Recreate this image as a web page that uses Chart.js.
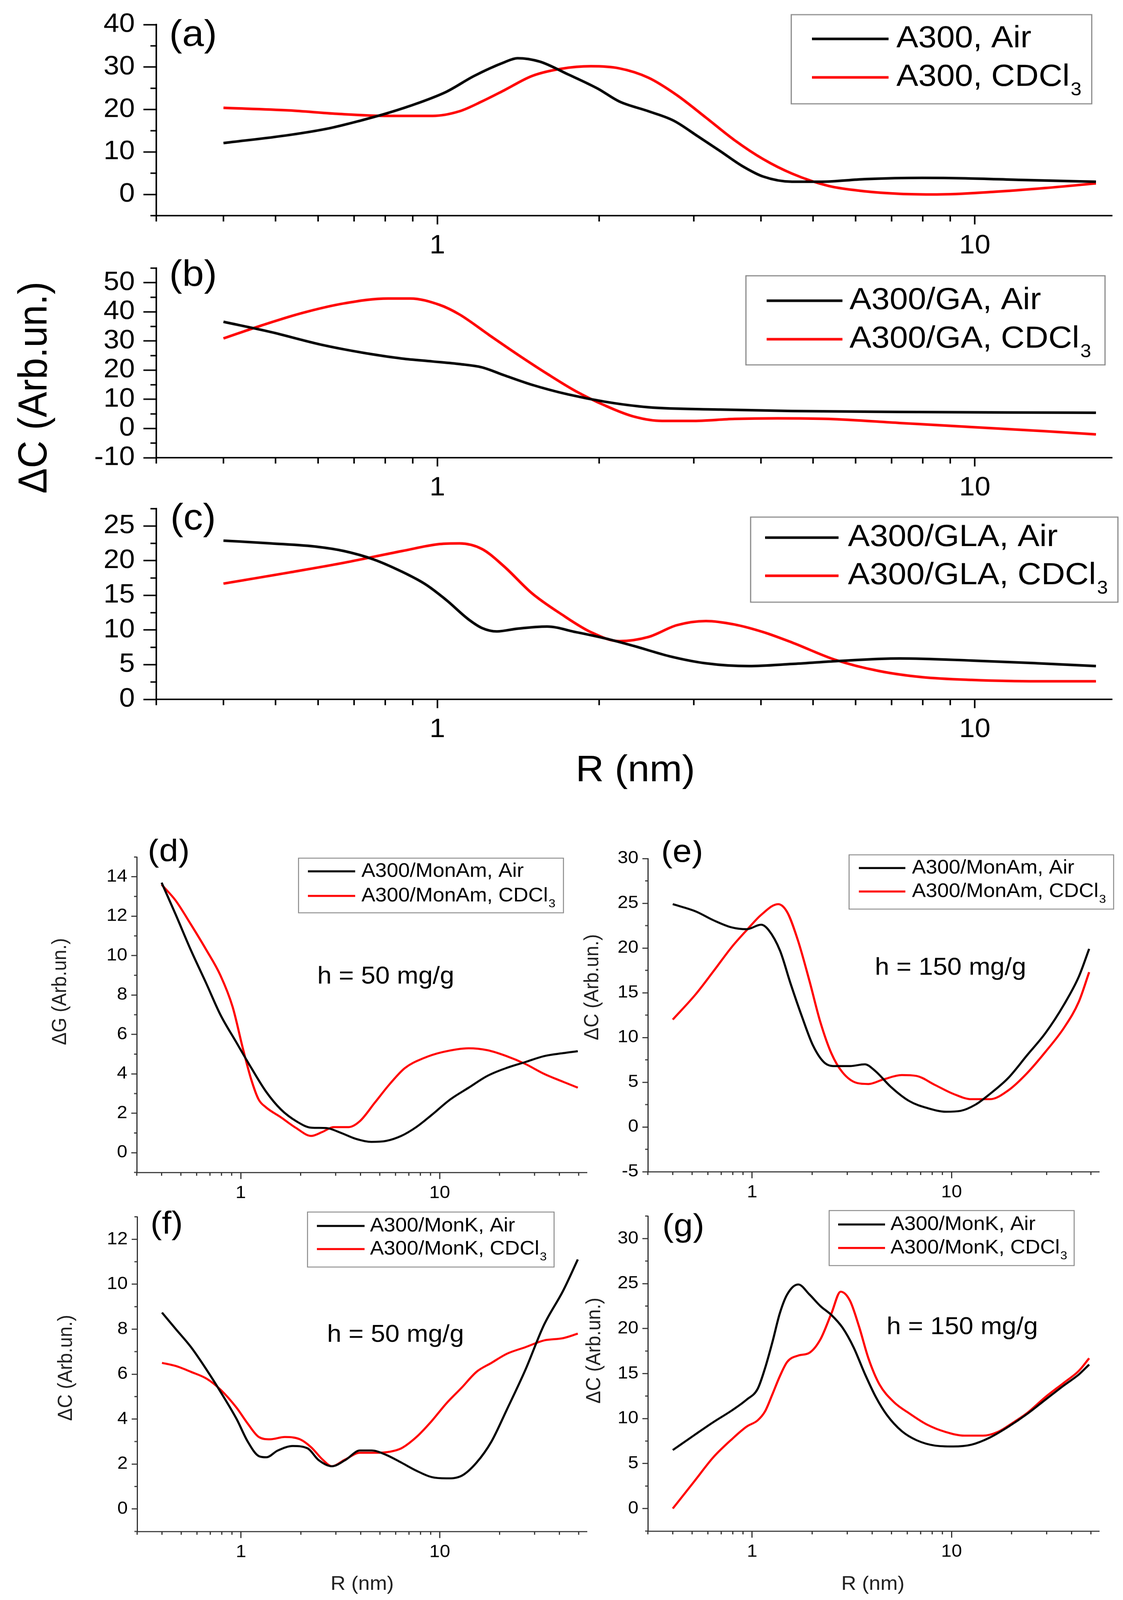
<!DOCTYPE html>
<html>
<head>
<meta charset="utf-8">
<script src="https://cdn.jsdelivr.net/npm/chart.js@4.4.1/dist/chart.umd.min.js"></script>
<style>
  html, body { margin: 0; padding: 0; background: #fff; overflow: hidden; }
  #page { position: relative; width: 2874px; height: 4363px; background: #fff; transform-origin: 0 0; }
  #page canvas { position: absolute; }
  .lbl { position: absolute; white-space: nowrap; font-family: "Liberation Sans", Arial, sans-serif; color: #000;
         transform: translate(-50%, -50%); line-height: 1; }
  .rot { transform: translate(-50%, -50%) rotate(-90deg); }
</style>
</head>
<body>
<div id="page">
  <div class="lbl rot" style="left:83px; top:1057px; font-size:104px;">ΔC (Arb.un.)</div>
  <div class="lbl" style="left:1626px; top:2095px; font-size:100px;">R (nm)</div>
  <div class="lbl rot" style="left:151px; top:2704px; font-size:52px; color:#222;">ΔG (Arb.un.)</div>
  <div class="lbl rot" style="left:1513px; top:2692px; font-size:52px; color:#222;">ΔC (Arb.un.)</div>
  <div class="lbl rot" style="left:166px; top:3730px; font-size:52px; color:#222;">ΔC (Arb.un.)</div>
  <div class="lbl rot" style="left:1518px; top:3683px; font-size:52px; color:#222;">ΔC (Arb.un.)</div>
  <div class="lbl" style="left:927px; top:4317px; font-size:53px; color:#222;">R (nm)</div>
  <div class="lbl" style="left:2234px; top:4317px; font-size:53px; color:#222;">R (nm)</div>
</div>
<script>
// ---- tick labels ----
const xMajor = [1, 10];
const xMinorTop = [0.3, 0.4, 0.5, 0.6, 0.7, 0.8, 0.9, 2, 3, 4, 5, 6, 7, 8, 9];
const xMinorBot = [0.3, 0.4, 0.5, 0.6, 0.7, 0.8, 0.9, 2, 3, 4, 5, 6, 7, 8, 9, 20, 30, 40, 50];

const yTicksA = [0, 10, 20, 30, 40];
const yMinorA = [-5, 5, 15, 25, 35];
const yTicksB = [-10, 0, 10, 20, 30, 40, 50];
const yMinorB = [-5, 5, 15, 25, 35, 45, 55];
const yTicksC = [0, 5, 10, 15, 20, 25];
const yMinorC = [2.5, 7.5, 12.5, 17.5, 22.5, 27.5];
const yTicksD = [0, 2, 4, 6, 8, 10, 12, 14];
const yMinorD = [-1, 1, 3, 5, 7, 9, 11, 13, 15];
const yTicksE = [-5, 0, 5, 10, 15, 20, 25, 30];
const yMinorE = [-2.5, 2.5, 7.5, 12.5, 17.5, 22.5, 27.5];
const yTicksF = [0, 2, 4, 6, 8, 10, 12];
const yMinorF = [-1, 1, 3, 5, 7, 9, 11, 13];
const yTicksG = [0, 5, 10, 15, 20, 25, 30];
const yMinorG = [-2.5, 2.5, 7.5, 12.5, 17.5, 22.5, 27.5, 32.5];

// ---- series (R in nm, dC in arb. units) ----
const aAirR = [0.4, 0.53, 0.63, 0.72, 0.81, 0.92, 1.04, 1.17, 1.33, 1.41, 1.55, 1.75, 1.99, 2.18, 2.47, 2.75, 3.06, 3.36, 3.68, 4.04, 4.57, 5.18, 6.23, 7.98, 9.6, 12.3, 16.8];
const aAirC = [12.1, 14.0, 15.6, 17.4, 19.2, 21.5, 24.2, 27.9, 31.1, 32.1, 31.3, 28.3, 24.9, 21.9, 19.6, 17.4, 13.6, 10.2, 6.8, 4.2, 3.0, 3.0, 3.6, 3.9, 3.8, 3.4, 3.0];
const aSolR = [0.4, 0.53, 0.65, 0.81, 0.98, 1.10, 1.21, 1.33, 1.50, 1.70, 1.93, 2.18, 2.47, 2.79, 3.16, 3.57, 4.04, 4.57, 5.34, 6.23, 7.25, 8.5, 10.8, 13.5, 16.8];
const aSolC = [20.4, 19.8, 19.0, 18.5, 18.5, 19.6, 21.9, 24.5, 27.9, 29.6, 30.2, 29.7, 27.5, 23.4, 18.1, 12.8, 8.3, 4.9, 2.0, 0.75, 0.15, 0, 0.6, 1.5, 2.6];

const bAirR = [0.4, 0.49, 0.61, 0.76, 0.86, 0.98, 1.10, 1.21, 1.33, 1.50, 1.75, 2.05, 2.47, 3.36, 4.57, 7.25, 11.5, 16.8];
const bAirC = [36.6, 33.1, 28.7, 25.4, 24.0, 23.0, 22.1, 21.0, 18.3, 15.0, 11.7, 9.2, 7.3, 6.5, 6.0, 5.7, 5.5, 5.4];
const bSolR = [0.4, 0.47, 0.56, 0.67, 0.81, 0.89, 1.01, 1.10, 1.25, 1.41, 1.60, 1.81, 2.05, 2.32, 2.62, 2.97, 3.57, 4.29, 5.34, 7.25, 9.86, 13.5, 16.8];
const bSolC = [30.9, 35.3, 39.6, 42.9, 44.6, 44.6, 42.4, 39.1, 32.0, 25.4, 18.8, 12.8, 7.9, 4.1, 2.6, 2.6, 3.3, 3.5, 3.3, 1.9, 0.5, -0.9, -2.0];

const cAirR = [0.4, 0.49, 0.6, 0.67, 0.76, 0.86, 0.95, 1.04, 1.14, 1.21, 1.29, 1.41, 1.60, 1.81, 2.05, 2.32, 2.71, 3.16, 3.8, 4.57, 5.5, 7.25, 9.86, 13.1, 16.8];
const cAirC = [22.9, 22.5, 22.0, 21.4, 20.2, 18.4, 16.6, 14.3, 11.6, 10.3, 9.8, 10.2, 10.5, 9.7, 8.8, 7.7, 6.2, 5.2, 4.8, 5.1, 5.5, 5.9, 5.6, 5.2, 4.8];
const cSolR = [0.4, 0.53, 0.67, 0.86, 1.01, 1.10, 1.21, 1.33, 1.50, 1.70, 1.93, 2.18, 2.47, 2.79, 3.16, 3.57, 4.04, 4.57, 5.5, 6.62, 7.98, 9.86, 13.1, 16.8];
const cSolC = [16.7, 18.3, 19.7, 21.4, 22.4, 22.5, 21.7, 19.2, 15.3, 12.3, 9.7, 8.4, 9.0, 10.7, 11.3, 10.8, 9.7, 8.2, 5.7, 4.1, 3.2, 2.8, 2.6, 2.6];

const dAirR = [0.4, 0.47, 0.56, 0.67, 0.79, 0.95, 1.13, 1.34, 1.59, 1.90, 2.26, 2.69, 3.2, 3.8, 4.53, 5.39, 6.41, 7.63, 9.08, 11.3, 14.0, 17.4, 21.7, 27.0, 33.5, 41.7, 49.5];
const dAirC = [13.7, 12.1, 10.3, 8.6, 7.0, 5.6, 4.3, 3.1, 2.2, 1.6, 1.27, 1.25, 1.0, 0.7, 0.55, 0.6, 0.85, 1.3, 1.9, 2.7, 3.3, 3.9, 4.3, 4.6, 4.9, 5.05, 5.15];
const dSolR = [0.4, 0.47, 0.56, 0.67, 0.79, 0.91, 1.03, 1.13, 1.23, 1.34, 1.59, 1.90, 2.26, 2.57, 2.93, 3.49, 3.97, 4.73, 5.63, 6.7, 8.32, 10.3, 14.0, 17.4, 21.7, 27.0, 33.5, 41.7, 49.5];
const dSolC = [13.6, 12.8, 11.6, 10.3, 9.0, 7.4, 5.2, 3.7, 2.7, 2.3, 1.8, 1.25, 0.85, 1.05, 1.3, 1.3, 1.6, 2.55, 3.5, 4.3, 4.8, 5.1, 5.3, 5.2, 4.9, 4.5, 4.0, 3.6, 3.3];

const eAirR = [0.4, 0.52, 0.64, 0.79, 0.94, 1.11, 1.21, 1.38, 1.56, 1.78, 2.02, 2.3, 2.61, 3.1, 3.67, 4.17, 4.95, 6.13, 7.59, 9.39, 11.1, 13.2, 15.6, 19.3, 23.9, 29.6, 36.7, 43.5, 49];
const eAirC = [24.9, 24.1, 23.1, 22.3, 22.1, 22.6, 22.0, 19.7, 16.0, 12.3, 9.1, 7.2, 6.8, 6.8, 7.0, 6.2, 4.5, 2.9, 2.1, 1.7, 1.8, 2.5, 3.7, 5.5, 8.0, 10.5, 13.7, 16.8, 19.9];
const eSolR = [0.4, 0.52, 0.64, 0.79, 0.94, 1.11, 1.35, 1.5, 1.7, 1.94, 2.2, 2.5, 2.84, 3.37, 3.83, 4.54, 5.63, 6.67, 8.25, 10.2, 12.6, 15.6, 19.3, 23.9, 29.6, 36.7, 43.5, 49];
const eSolC = [12.0, 14.8, 17.4, 20.1, 22.0, 23.7, 24.9, 24.0, 20.8, 16.3, 11.7, 8.2, 6.1, 4.9, 4.8, 5.3, 5.8, 5.7, 4.7, 3.7, 3.1, 3.1, 4.1, 6.0, 8.4, 11.1, 14.0, 17.3];

const fAirR = [0.4, 0.47, 0.56, 0.67, 0.79, 0.95, 1.08, 1.23, 1.34, 1.53, 1.82, 2.16, 2.46, 2.86, 3.34, 3.97, 4.53, 5.39, 6.41, 7.63, 9.08, 10.8, 12.9, 15.3, 18.2, 21.7, 27.0, 33.5, 41.7, 49.5];
const fAirC = [8.74, 8.0, 7.2, 6.2, 5.2, 4.0, 3.0, 2.35, 2.3, 2.6, 2.8, 2.7, 2.17, 1.9, 2.17, 2.6, 2.6, 2.4, 2.06, 1.7, 1.42, 1.36, 1.48, 2.06, 3.0, 4.4, 6.2, 8.2, 9.7, 11.1];
const fSolR = [0.4, 0.47, 0.56, 0.67, 0.79, 0.95, 1.08, 1.23, 1.40, 1.66, 1.98, 2.25, 2.57, 2.86, 3.34, 3.97, 4.73, 5.63, 6.41, 7.63, 9.08, 10.8, 12.9, 15.3, 18.2, 21.7, 27.0, 33.5, 41.7, 49.5];
const fSolC = [6.5, 6.36, 6.1, 5.8, 5.3, 4.5, 3.8, 3.2, 3.1, 3.2, 3.1, 2.75, 2.2, 1.9, 2.2, 2.5, 2.5, 2.55, 2.7, 3.2, 3.9, 4.7, 5.4, 6.1, 6.5, 6.9, 7.2, 7.5, 7.6, 7.8];

const gAirR = [0.4, 0.516, 0.639, 0.791, 0.938, 1.066, 1.161, 1.264, 1.377, 1.5, 1.704, 1.936, 2.2, 2.5, 2.84, 3.23, 3.67, 4.17, 4.74, 5.63, 6.67, 8.25, 10.2, 12.6, 15.6, 19.3, 23.9, 29.6, 36.7, 43.5, 49];
const gAirC = [6.5, 8.2, 9.6, 10.9, 12.1, 13.3, 15.6, 18.5, 21.7, 23.8, 24.9, 23.8, 22.5, 21.5, 20.1, 17.9, 15.0, 12.4, 10.4, 8.6, 7.6, 7.0, 6.9, 7.1, 7.9, 9.1, 10.5, 12.1, 13.7, 14.9, 16.0];
const gSolR = [0.4, 0.516, 0.639, 0.791, 0.938, 1.066, 1.161, 1.264, 1.377, 1.5, 1.704, 1.936, 2.2, 2.5, 2.78, 3.095, 3.44, 3.83, 4.35, 5.16, 6.12, 7.58, 9.38, 11.6, 14.4, 17.0, 20.2, 23.9, 29.6, 36.7, 43.5, 49];
const gSolC = [0, 3.1, 5.7, 7.7, 9.1, 9.8, 10.8, 12.7, 14.7, 16.3, 17.0, 17.3, 18.8, 21.7, 24.1, 23.1, 20.2, 16.7, 13.8, 11.8, 10.6, 9.3, 8.5, 8.1, 8.1, 8.5, 9.5, 10.6, 12.4, 14.0, 15.3, 16.7];

const FONT = '"Liberation Sans", Arial, sans-serif';
Chart.defaults.font.family = FONT;

// look of the two figure halves (top: a-c, bottom: d-g)
const TOP = { yW: 200, xH: 110, tick: 72, axisW: 4, axisC: '#000', lw: 7,
              yMaj: 33, yMin: 15, xMaj: 24, xMin: 16, yPad: 22, xPad: 16,
              legSize: 84, legBorder: 3, tagSize: 100, xMinor: xMinorTop, xMax: 18 };
const BOT = { yW: 120, xH: 80, tick: 48, axisW: 3, axisC: '#333', lw: 5.5,
              yMaj: 14, yMin: 7, xMaj: 18, xMin: 9, yPad: 10, xPad: 10,
              legSize: 53, legBorder: 2.5, tagSize: 88, xMinor: xMinorBot, xMax: 55 };

const panels = [
  { st: TOP, area: [400, 52, 2846, 588], y: [-5, 40], yTicks: yTicksA, yMinor: yMinorA,
    series: [[aAirR, aAirC], [aSolR, aSolC]], labels: ['A300, Air', 'A300, CDCl3'],
    legend: { box: [2025, 40, 2794, 283], rows: [106, 211], sample: [2078, 2274], textX: 2294 },
    tag: ['(a)', 433, 125] },
  { st: TOP, area: [400, 716, 2846, 1248], y: [-10, 55], yTicks: yTicksB, yMinor: yMinorB,
    series: [[bAirR, bAirC], [bSolR, bSolC]], labels: ['A300/GA, Air', 'A300/GA, CDCl3'],
    legend: { box: [1909, 752, 2828, 995], rows: [820, 925], sample: [1962, 2156], textX: 2174 },
    tag: ['(b)', 433, 780] },
  { st: TOP, area: [400, 1372, 2846, 1907], y: [0, 27.5], yTicks: yTicksC, yMinor: yMinorC,
    series: [[cAirR, cAirC], [cSolR, cSolC]], labels: ['A300/GLA, Air', 'A300/GLA, CDCl3'],
    legend: { box: [1921, 1410, 2861, 1642], rows: [1466, 1570], sample: [1958, 2146], textX: 2170 },
    tag: ['(c)', 436, 1444] },
  { st: BOT, area: [350, 2337, 1502, 3197], y: [-1, 15], yTicks: yTicksD, yMinor: yMinorD,
    series: [[dAirR, dAirC], [dSolR, dSolC]], labels: ['A300/MonAm, Air', 'A300/MonAm, CDCl3'],
    legend: { box: [764, 2340, 1442, 2489], rows: [2376, 2443], sample: [788, 909], textX: 925 },
    tag: ['(d)', 378, 2348], note: ['h = 50 mg/g', 812, 2682] },
  { st: BOT, area: [1658, 2341, 2813, 3195], y: [-5, 30], yTicks: yTicksE, yMinor: yMinorE,
    series: [[eAirR, eAirC], [eSolR, eSolC]], labels: ['A300/MonAm, Air', 'A300/MonAm, CDCl3'],
    legend: { box: [2173, 2331, 2850, 2479], rows: [2367, 2431], sample: [2198, 2317], textX: 2334 },
    tag: ['(e)', 1692, 2350], note: ['h = 150 mg/g', 2239, 2658] },
  { st: BOT, area: [351, 3318, 1502, 4176], y: [-1, 13], yTicks: yTicksF, yMinor: yMinorF,
    series: [[fAirR, fAirC], [fSolR, fSolC]], labels: ['A300/MonK, Air', 'A300/MonK, CDCl3'],
    legend: { box: [787, 3305, 1418, 3455], rows: [3343, 3406], sample: [811, 933], textX: 947 },
    tag: ['(f)', 385, 3364], note: ['h = 50 mg/g', 837, 3659] },
  { st: BOT, area: [1658, 3316, 2813, 4175], y: [-2.5, 32.5], yTicks: yTicksG, yMinor: yMinorG,
    series: [[gAirR, gAirC], [gSolR, gSolC]], labels: ['A300/MonK, Air', 'A300/MonK, CDCl3'],
    legend: { box: [2122, 3301, 2749, 3451], rows: [3339, 3403], sample: [2145, 2265], textX: 2279 },
    tag: ['(g)', 1695, 3371], note: ['h = 150 mg/g', 2269, 3638] }
];

// minor ticks, Origin style (outside)
const minorTicks = {
  id: 'minorTicks',
  afterDraw(chart, args, o) {
    const { ctx, chartArea } = chart;
    const xs = chart.scales.x, ys = chart.scales.y;
    ctx.save();
    ctx.strokeStyle = o.color;
    ctx.lineWidth = o.width;
    o.x.forEach(v => {
      const px = xs.getPixelForValue(v);
      ctx.beginPath();
      ctx.moveTo(px, chartArea.bottom);
      ctx.lineTo(px, chartArea.bottom + o.xLen);
      ctx.stroke();
    });
    o.y.forEach(v => {
      const py = ys.getPixelForValue(v);
      ctx.beginPath();
      ctx.moveTo(chartArea.left, py);
      ctx.lineTo(chartArea.left - o.yLen, py);
      ctx.stroke();
    });
    ctx.restore();
  }
};

// text with a trailing "3" as subscript (CDCl3)
function drawLabel(ctx, txt, x, y, size) {
  ctx.font = size + 'px ' + FONT;
  ctx.textBaseline = 'middle';
  ctx.textAlign = 'left';
  if (txt.endsWith('CDCl3')) {
    const main = txt.slice(0, -1);
    ctx.fillText(main, x, y);
    const w = ctx.measureText(main).width;
    ctx.font = Math.round(size * 0.6) + 'px ' + FONT;
    ctx.fillText('3', x + w + size * 0.03, y + size * 0.42);
  } else {
    ctx.fillText(txt, x, y);
  }
}

// boxed legend, panel letter and note; positions are page coordinates
const boxLegend = {
  id: 'boxLegend',
  afterDraw(chart, args, o) {
    const ctx = chart.ctx, ox = o.ox, oy = o.oy, L = o.legend;
    ctx.save();
    const [x1, y1, x2, y2] = L.box;
    ctx.fillStyle = '#fff';
    ctx.fillRect(x1 - ox, y1 - oy, x2 - x1, y2 - y1);
    ctx.strokeStyle = '#8a8a8a';
    ctx.lineWidth = o.border;
    ctx.strokeRect(x1 - ox, y1 - oy, x2 - x1, y2 - y1);
    chart.data.datasets.forEach((ds, i) => {
      const yy = L.rows[i] - oy;
      ctx.strokeStyle = ds.borderColor;
      ctx.lineWidth = ds.borderWidth;
      ctx.beginPath();
      ctx.moveTo(L.sample[0] - ox, yy);
      ctx.lineTo(L.sample[1] - ox, yy);
      ctx.stroke();
      ctx.fillStyle = '#000';
      drawLabel(ctx, ds.label, L.textX - ox, yy, o.size);
    });
    ctx.fillStyle = '#000';
    ctx.textBaseline = 'alphabetic';
    ctx.textAlign = 'left';
    ctx.font = o.tagSize + 'px ' + FONT;
    ctx.fillText(o.tag[0], o.tag[1] - ox, o.tag[2] - oy);
    if (o.note) {
      ctx.font = '66px ' + FONT;
      ctx.fillText(o.note[0], o.note[1] - ox, o.note[2] - oy);
    }
    ctx.restore();
  }
};

const page = document.getElementById('page');
// the window may be shorter than the figure: fit the whole figure into it
const fitX = Math.min(1, window.innerWidth / 2874);
const fitY = Math.min(1, window.innerHeight / 4363);
page.style.transform = 'scale(' + fitX + ',' + fitY + ')';

const M = { l: 300, t: 50, b: 140 };

panels.forEach(p => {
  const st = p.st;
  const [l, t, r, b] = p.area;
  const mr = Math.min(40, 2874 - r);
  const ox = l - M.l, oy = t - M.t;
  const w = r - l + M.l + mr, h = b - t + M.t + M.b;
  const cv = document.createElement('canvas');
  cv.width = w; cv.height = h;
  cv.style.left = ox + 'px'; cv.style.top = oy + 'px';
  cv.style.width = w + 'px'; cv.style.height = h + 'px';
  page.appendChild(cv);

  const pts = (rs, cs) => rs.map((v, i) => ({ x: v, y: cs[i] }));
  const colors = ['#000000', '#ff0000'];

  new Chart(cv, {
    type: 'line',
    data: {
      datasets: p.series.map((s, i) => ({
        label: p.labels[i],
        data: pts(s[0], s[1]),
        borderColor: colors[i],
        borderWidth: st.lw,
        pointRadius: 0,
        fill: false,
        cubicInterpolationMode: 'monotone'
      }))
    },
    options: {
      responsive: false,
      animation: false,
      events: [],
      layout: { padding: { left: M.l - st.yW, top: M.t, right: mr, bottom: M.b - st.xH } },
      plugins: {
        legend: { display: false },
        tooltip: { enabled: false },
        minorTicks: { x: st.xMinor, y: p.yMinor, xLen: st.xMin, yLen: st.yMin, color: st.axisC, width: st.axisW },
        boxLegend: { ox, oy, legend: p.legend, size: st.legSize, border: st.legBorder,
                     tag: p.tag, tagSize: st.tagSize, note: p.note }
      },
      scales: {
        x: {
          type: 'logarithmic',
          min: 0.3, max: st.xMax,
          afterBuildTicks: s => { s.ticks = xMajor.map(v => ({ value: v })); },
          afterFit: s => { s.height = st.xH; },
          ticks: { autoSkip: false, maxRotation: 0, padding: st.xPad, color: '#000',
                   font: { size: st.tick }, callback: v => String(v) },
          grid: { drawOnChartArea: false, drawTicks: true, tickLength: st.xMaj,
                  tickWidth: st.axisW, tickColor: st.axisC },
          border: { display: true, color: st.axisC, width: st.axisW }
        },
        y: {
          type: 'linear',
          min: p.y[0], max: p.y[1],
          afterBuildTicks: s => { s.ticks = p.yTicks.map(v => ({ value: v })); },
          afterFit: s => { s.width = st.yW; },
          ticks: { autoSkip: false, padding: st.yPad, color: '#000',
                   font: { size: st.tick }, callback: v => String(v) },
          grid: { drawOnChartArea: false, drawTicks: true, tickLength: st.yMaj,
                  tickWidth: st.axisW, tickColor: st.axisC },
          border: { display: true, color: st.axisC, width: st.axisW }
        }
      }
    },
    plugins: [minorTicks, boxLegend]
  });
});
</script>
</body>
</html>
